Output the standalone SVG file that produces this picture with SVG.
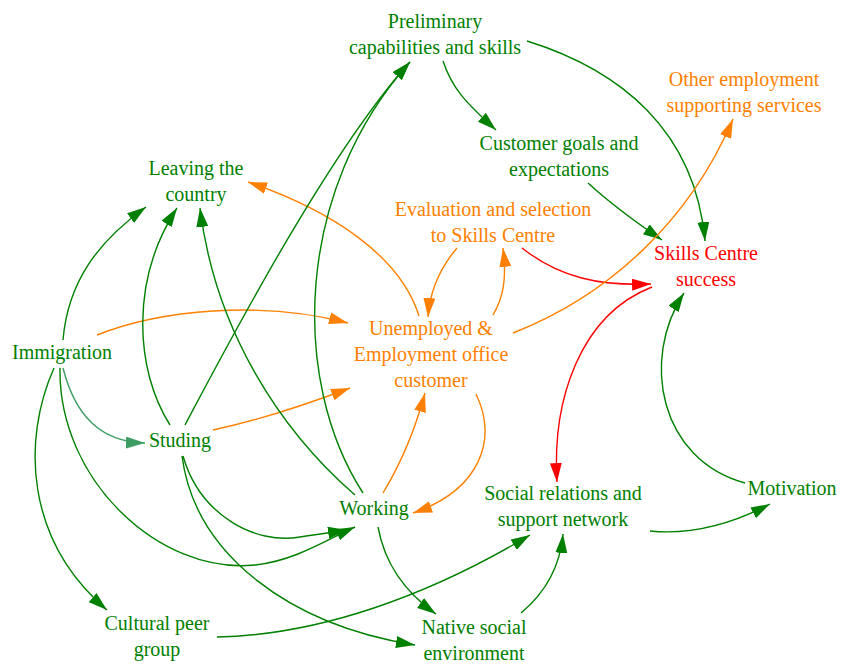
<svg xmlns="http://www.w3.org/2000/svg" width="846" height="665" viewBox="0 0 846 665">
<style>
text{font-family:"Liberation Serif","DejaVu Serif","Times New Roman",serif;font-size:20px;text-anchor:middle}
.g text{fill:#008000}
.o text{fill:#ff8000}
.r text{fill:#ff0000}
path.eg{stroke:#008000;fill:none;stroke-width:1.4;marker-end:url(#ag)}
path.eo{stroke:#ff8000;fill:none;stroke-width:1.4;marker-end:url(#ao)}
path.er{stroke:#ff0000;fill:none;stroke-width:1.4;marker-end:url(#ar)}
path.es{stroke:#3d9e63;fill:none;stroke-width:1.4;marker-end:url(#as)}
</style>
<defs>
<marker id="ag" markerUnits="userSpaceOnUse" markerWidth="19" markerHeight="12" refX="19" refY="6" orient="auto"><path d="M0,0 L19,6 L0,12 z" fill="#008000"/></marker>
<marker id="ao" markerUnits="userSpaceOnUse" markerWidth="19" markerHeight="12" refX="19" refY="6" orient="auto"><path d="M0,0 L19,6 L0,12 z" fill="#ff8000"/></marker>
<marker id="ar" markerUnits="userSpaceOnUse" markerWidth="19" markerHeight="12" refX="19" refY="6" orient="auto"><path d="M0,0 L19,6 L0,12 z" fill="#ff0000"/></marker>
<marker id="as" markerUnits="userSpaceOnUse" markerWidth="19" markerHeight="12" refX="19" refY="6" orient="auto"><path d="M0,0 L19,6 L0,12 z" fill="#3d9e63"/></marker>
</defs>
<rect width="846" height="665" fill="#ffffff"/>
<g id="connectors">
<path class="eg" d="M443,61 C452,88 465,102 496,130"/>
<path class="eg" d="M527,41 C620,70 695,130 705,241"/>
<path class="eg" d="M588,183 C612,205 640,225 662,240"/>
<path class="er" d="M522,248 C560,278 600,286 651,284"/>
<path class="eo" d="M513,333 C610,295 690,220 733,119"/>
<path class="eo" d="M457,248 C440,268 430,290 428,317"/>
<path class="eo" d="M493,315 C503,298 507,280 503,248"/>
<path class="eo" d="M419,316 C400,255 330,210 248,182"/>
<path class="eo" d="M476,394 C498,440 480,490 413,513"/>
<path class="eo" d="M383,493 C400,465 415,430 425,393"/>
<path class="eo" d="M97,335 C160,310 260,300 348,323"/>
<path class="eo" d="M213,430 C260,420 305,405 350,388"/>
<path class="eg" d="M63,340 C68,280 100,240 146,207"/>
<path class="eg" d="M170,425 C135,370 130,280 177,208"/>
<path class="eg" d="M355,495 C280,430 215,330 200,208"/>
<path class="eg" d="M185,425 C230,340 330,150 410,62"/>
<path class="eg" d="M363,493 C290,380 295,190 410,62"/>
<path class="es" d="M63,368 C75,415 100,442 145,443"/>
<path class="eg" d="M60,368 C58,480 160,575 255,565 C295,561 330,538 355,527"/>
<path class="eg" d="M183,456 C200,515 255,545 300,537 C318,534 333,532 347,530"/>
<path class="eg" d="M182,456 C195,555 290,625 415,645"/>
<path class="eg" d="M54,368 C22,440 25,540 107,610"/>
<path class="eg" d="M217,637 C320,635 430,595 530,535"/>
<path class="eg" d="M378,527 C385,565 405,592 436,614"/>
<path class="eg" d="M521,613 C545,593 560,568 563,534"/>
<path class="eg" d="M650,531 C690,535 730,525 770,504"/>
<path class="eg" d="M745,483 C660,460 640,360 684,293"/>
<path class="er" d="M652,287 C580,315 552,400 557,482"/>
</g>
<g id="preliminary" class="g"><text x="435" y="28">Preliminary</text><text x="435" y="54">capabilities and skills</text></g>
<g id="other" class="o"><text x="744" y="86">Other employment</text><text x="744" y="112">supporting services</text></g>
<g id="customer-goals" class="g"><text x="559" y="150">Customer goals and</text><text x="559" y="176">expectations</text></g>
<g id="leaving" class="g"><text x="196" y="175">Leaving the</text><text x="196" y="201">country</text></g>
<g id="evaluation" class="o"><text x="493" y="216">Evaluation and selection</text><text x="493" y="242">to Skills Centre</text></g>
<g id="success" class="r"><text x="706" y="260">Skills Centre</text><text x="706" y="286">success</text></g>
<g id="unemployed" class="o"><text x="431" y="335">Unemployed &amp;</text><text x="431" y="361">Employment office</text><text x="431" y="387">customer</text></g>
<g id="immigration" class="g"><text x="62" y="359">Immigration</text></g>
<g id="studing" class="g"><text x="180" y="447">Studing</text></g>
<g id="working" class="g"><text x="374" y="515">Working</text></g>
<g id="social" class="g"><text x="563" y="500">Social relations and</text><text x="563" y="526">support network</text></g>
<g id="motivation" class="g"><text x="792" y="495">Motivation</text></g>
<g id="cultural" class="g"><text x="157" y="630">Cultural peer</text><text x="157" y="656">group</text></g>
<g id="native" class="g"><text x="474" y="634">Native social</text><text x="474" y="660">environment</text></g>
</svg>
